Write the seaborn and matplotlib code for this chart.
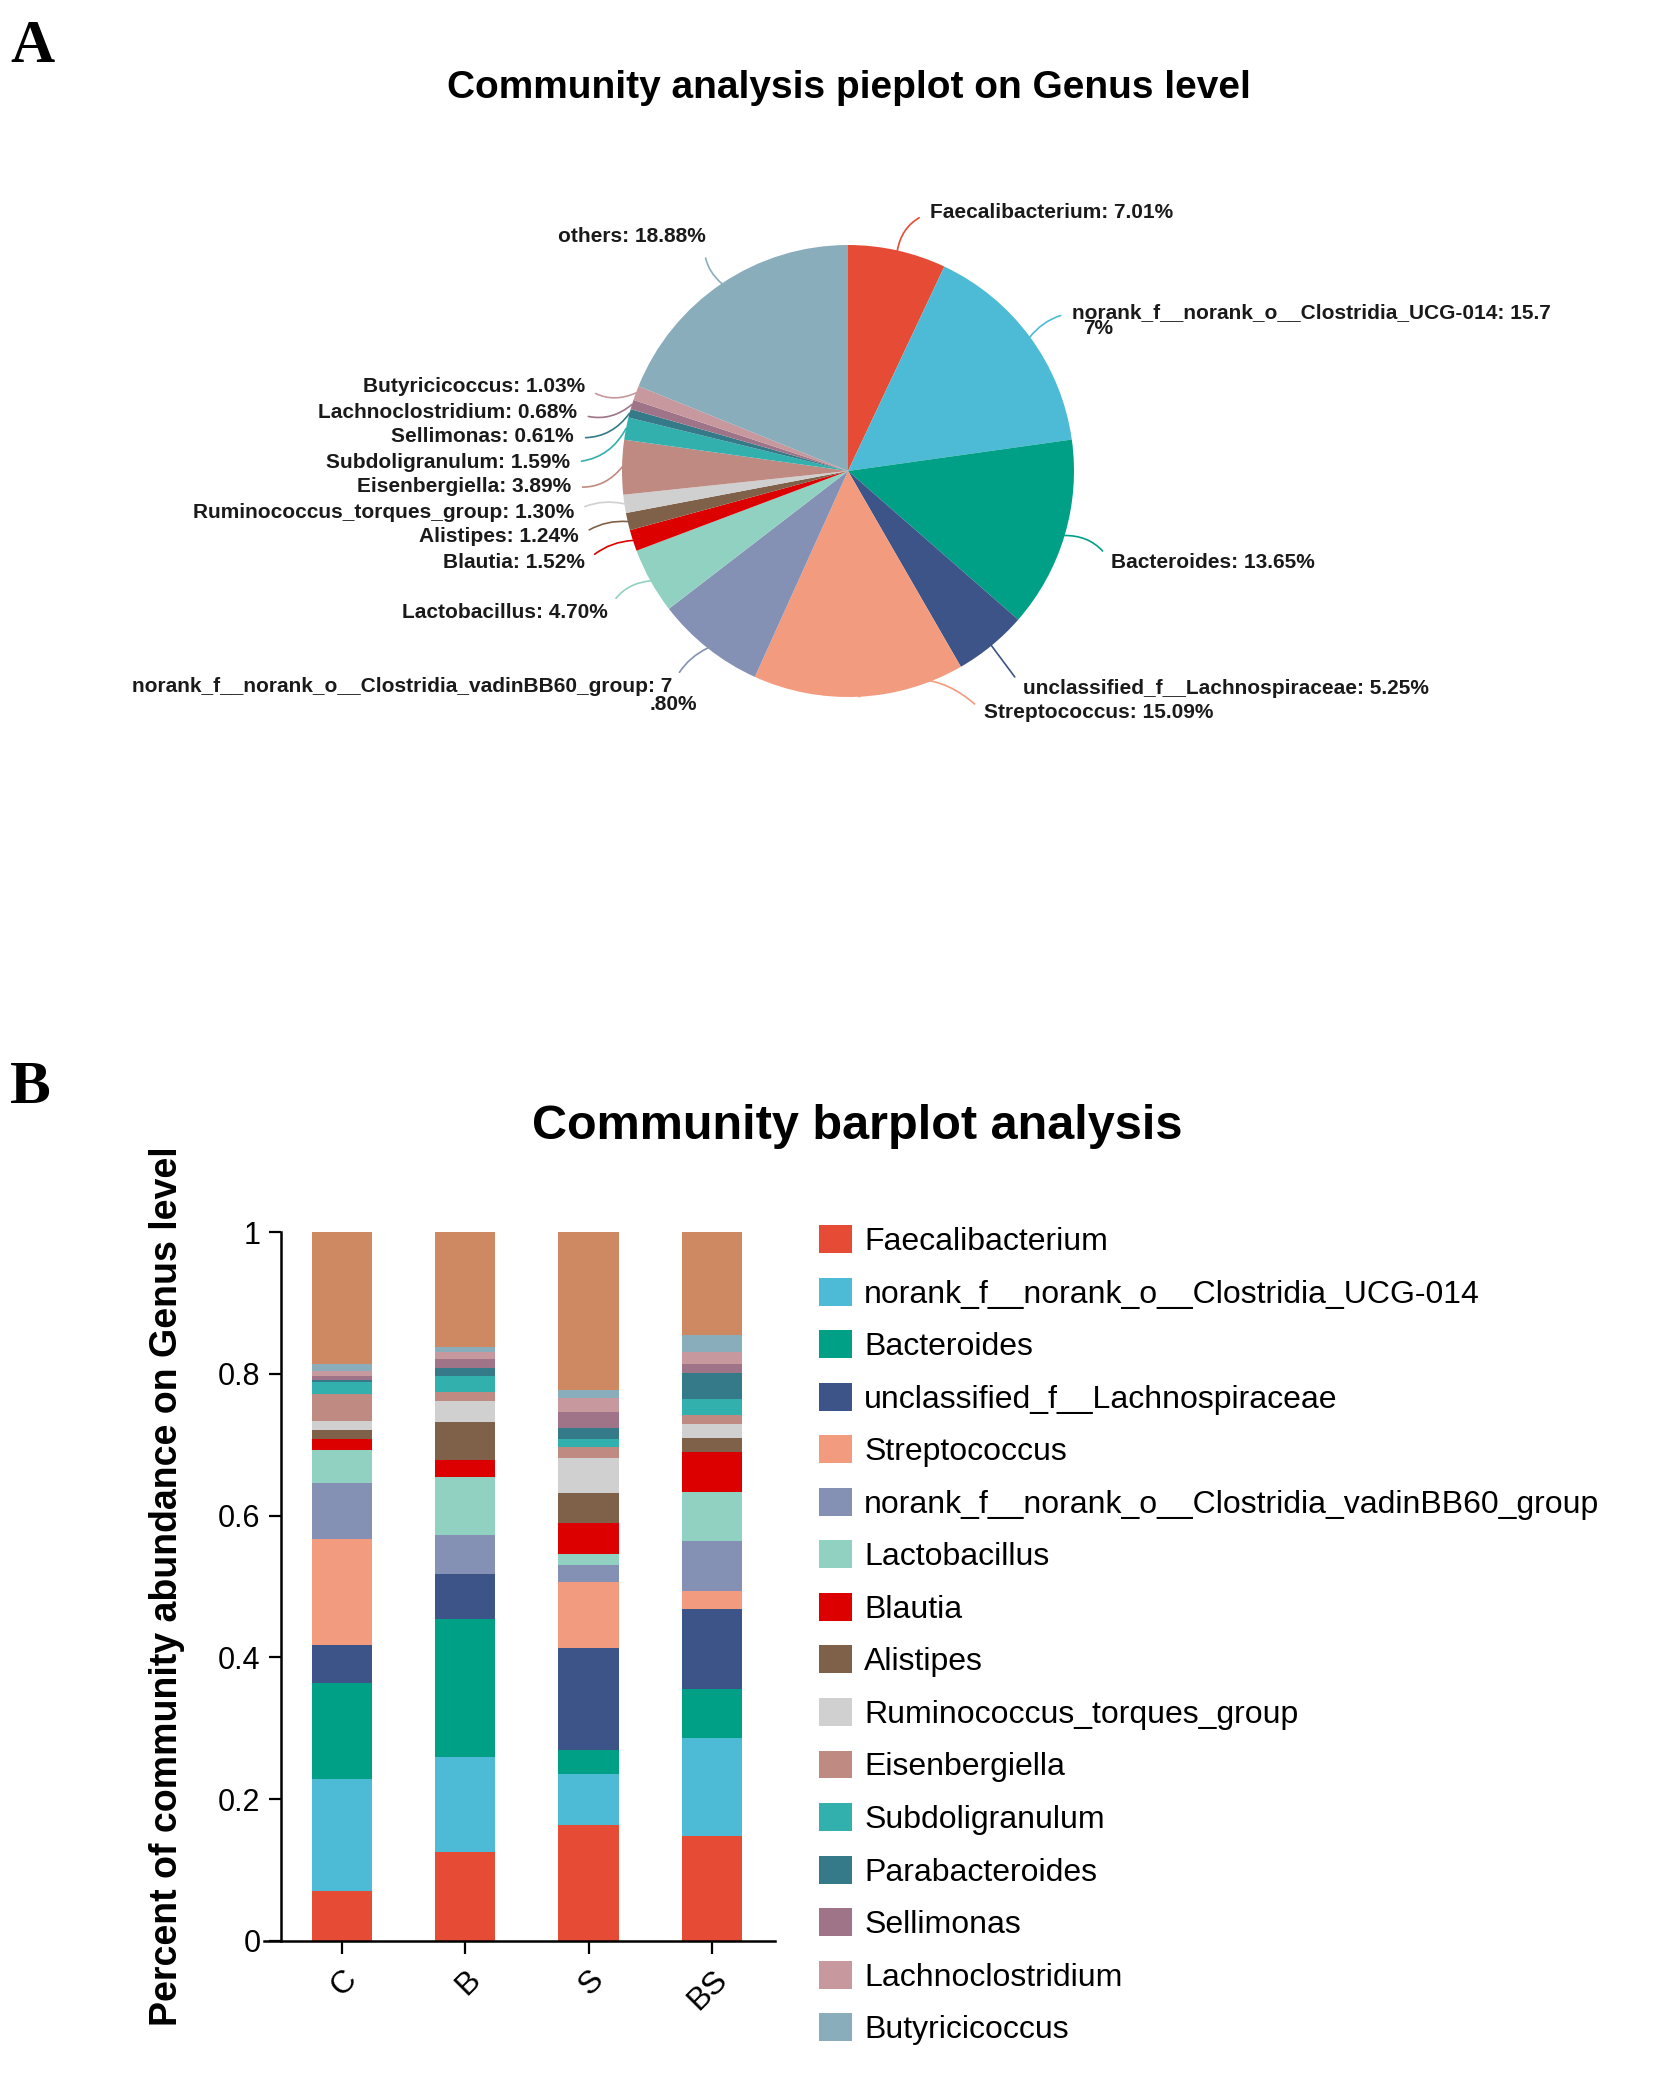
import numpy as np
import matplotlib
matplotlib.use("Agg")
import matplotlib.pyplot as plt
from matplotlib.patches import Patch
import seaborn as sns

# ---------------- data ----------------
taxa = [
    "Faecalibacterium",
    "norank_f__norank_o__Clostridia_UCG-014",
    "Bacteroides",
    "unclassified_f__Lachnospiraceae",
    "Streptococcus",
    "norank_f__norank_o__Clostridia_vadinBB60_group",
    "Lactobacillus",
    "Blautia",
    "Alistipes",
    "Ruminococcus_torques_group",
    "Eisenbergiella",
    "Subdoligranulum",
    "Parabacteroides",
    "Sellimonas",
    "Lachnoclostridium",
    "Butyricicoccus",
]
groups = ["C", "B", "S", "BS"]

# relative abundance per group (order follows `taxa`)
abund_C = [0.0701, 0.1577, 0.1365, 0.0525, 0.1509, 0.0780, 0.0470, 0.0152,
           0.0124, 0.0130, 0.0389, 0.0159, 0.0030, 0.0061, 0.0068, 0.0103]
abund_B = [0.125, 0.135, 0.194, 0.063, 0.000, 0.056, 0.081, 0.025,
           0.053, 0.029, 0.0135, 0.022, 0.011, 0.014, 0.009, 0.007]
abund_S = [0.164, 0.071, 0.034, 0.144, 0.094, 0.024, 0.015, 0.044,
           0.042, 0.049, 0.0155, 0.011, 0.016, 0.022, 0.020, 0.011]
abund_BS = [0.148, 0.138, 0.069, 0.113, 0.025, 0.071, 0.069, 0.056,
            0.020, 0.020, 0.013, 0.022, 0.037, 0.013, 0.017, 0.024]
others = [0.1857, 0.1625, 0.2235, 0.145]

# pie (group C) percentages
pie_names = [
    "Faecalibacterium", "norank_f__norank_o__Clostridia_UCG-014", "Bacteroides",
    "unclassified_f__Lachnospiraceae", "Streptococcus",
    "norank_f__norank_o__Clostridia_vadinBB60_group", "Lactobacillus", "Blautia",
    "Alistipes", "Ruminococcus_torques_group", "Eisenbergiella", "Subdoligranulum",
    "Sellimonas", "Lachnoclostridium", "Butyricicoccus", "others",
]
pie_pct = [7.01, 15.77, 13.65, 5.25, 15.09, 7.80, 4.70, 1.52,
           1.24, 1.30, 3.89, 1.59, 0.61, 0.68, 1.03, 18.88]

# ---------------- styles ----------------
colors = ["#E64B35", "#4DBBD5", "#00A087", "#3C5488", "#F39B7F", "#8491B4",
          "#91D1C2", "#DC0000", "#7E6148", "#D0D0D0", "#BF8A81", "#31B0AE",
          "#347A88", "#9F7489", "#C7989D", "#8AADBB"]
others_color = "#CE8862"

sns.set_style("white")
plt.rcParams["font.family"] = ["Liberation Sans", "DejaVu Sans"]
plt.rcParams["text.color"] = "black"
plt.rcParams["axes.labelcolor"] = "black"
plt.rcParams["xtick.color"] = "black"
plt.rcParams["ytick.color"] = "black"

W, H = 1654, 2077
fig = plt.figure(figsize=(W / 100, H / 100), dpi=100)

def fy(y):  # top-origin pixel -> figure pixel
    return H - y

# panel letters
fig.text(10 / W, 1 - 62 / H, "A", family=["Liberation Serif"], fontweight="bold",
         fontsize=44, ha="left", va="baseline")
fig.text(10 / W, 1 - 1103 / H, "B", family=["Liberation Serif"], fontweight="bold",
         fontsize=44, ha="left", va="baseline")

# ---------------- pie ----------------
cx, cy, r = 848, 471, 226
ax_pie = fig.add_axes([(cx - r) / W, (H - cy - r) / H, 2 * r / W, 2 * r / H])
ax_pie.pie(pie_pct, colors=colors[:len(pie_pct)], startangle=90, counterclock=False,
           radius=1, wedgeprops=dict(linewidth=0))
ax_pie.set_xlim(-1, 1)
ax_pie.set_ylim(-1, 1)
ax_pie.set_aspect("equal")
ax_pie.axis("off")

fig.text(849 / W, 1 - 98 / H, "Community analysis pieplot on Genus level",
         fontsize=28, fontweight="bold", ha="center", va="baseline")

# label layout (top-origin pixels)
lab_x = [930, 1072, 1111, 1023, 984, 672, 608, 585, 579, 574, 571, 570, 574, 577, 585, 706]
lab_y = [213, 313, 563, 688, 713, 687, 612, 563, 537, 512, 486, 462, 437, 413, 387, 237]
lab_ha = ["left"] * 5 + ["right"] * 11
lab_rad = [0.3, 0.2, 0.3, 0.0, 0.4, -0.2, -0.3, -0.2, -0.2, -0.2, 0.3, 0.3, 0.3, 0.3, 0.3, 0.3]
wrap_tail = {1: (2, 1083, 328, "left"), 5: (4, 697, 705, "right")}

cum = np.cumsum([0] + pie_pct[:-1])
for i, (name, p) in enumerate(zip(pie_names, pie_pct)):
    mid = 90 - (cum[i] + p / 2) / 100 * 360
    ex, ey = np.cos(np.radians(mid)), np.sin(np.radians(mid))
    label = f"{name}: {p:.2f}%"
    second = None
    if i in wrap_tail:
        n, sx, sy, sha = wrap_tail[i]
        label, second = label[:-n], label[-n:]
    relpos = (0, 0.5) if lab_ha[i] == "left" else (1, 0.5)
    ax_pie.annotate(label, xy=(ex, ey), xycoords="data",
                    xytext=(lab_x[i], fy(lab_y[i])), textcoords="figure pixels",
                    ha=lab_ha[i], va="center", fontsize=15, fontweight="bold",
                    color="#1a1a1a",
                    arrowprops=dict(arrowstyle="-", color=colors[i], lw=1.2,
                                    shrinkA=6, shrinkB=0, relpos=relpos,
                                    connectionstyle=f"arc3,rad={lab_rad[i]}"))
    if second is not None:
        fig.text(sx / W, 1 - sy / H, second, ha=sha, va="center", fontsize=15,
                 fontweight="bold", color="#1a1a1a")

# ---------------- stacked bar ----------------
ax = fig.add_axes([264 / W, (H - 1941) / H, 511 / W, 709 / H])
table = np.array([abund_C, abund_B, abund_S, abund_BS])  # groups x taxa
bottom = np.zeros(len(groups))
for j, name in enumerate(taxa):
    sns.barplot(x=groups, y=table[:, j], order=groups, color=colors[j], bottom=bottom,
                width=0.49, saturation=1, errorbar=None, ax=ax, linewidth=0)
    bottom = bottom + table[:, j]
sns.barplot(x=groups, y=others, order=groups, color=others_color, bottom=bottom,
            width=0.49, saturation=1, errorbar=None, ax=ax, linewidth=0)

ax.set_xlim(-0.63, 3.51)
ax.set_ylim(0, 1)
sns.despine(ax=ax)
ax.spines["left"].set_position(("data", -0.49))
for s in ("left", "bottom"):
    ax.spines[s].set_linewidth(1.8)
    ax.spines[s].set_color("black")
ax.set_yticks([0, 0.2, 0.4, 0.6, 0.8, 1.0])
ax.set_yticklabels(["0", "0.2", "0.4", "0.6", "0.8", "1"], fontsize=22)
ax.set_xticks(range(len(groups)))
ax.set_xticklabels(groups, fontsize=23, rotation=45, ha="right", rotation_mode="anchor")
ax.tick_params(axis="both", direction="out", length=9, width=1.6, colors="black",
               left=True, bottom=True)
ax.tick_params(axis="y", pad=6)
ax.tick_params(axis="x", pad=8)
ax.set_xlabel("")
ax.set_ylabel("Percent of community abundance on Genus level", fontsize=27,
              fontweight="bold", va="center")
ax.yaxis.set_label_coords(-0.19, 0.5)

fig.text(857 / W, 1 - 1139 / H, "Community barplot analysis", fontsize=35,
         fontweight="bold", ha="center", va="baseline")

handles = [Patch(facecolor=c, edgecolor="none") for c in colors]
ax.legend(handles, taxa, loc="upper left", bbox_to_anchor=(819 / W, 1 - 1225 / H),
          bbox_transform=fig.transFigure, frameon=False, fontsize=23,
          handlelength=1.03, handleheight=0.97, handletextpad=0.38,
          labelspacing=0.645, borderpad=0, borderaxespad=0)

fig.savefig("out.png", dpi=100, facecolor="white")
